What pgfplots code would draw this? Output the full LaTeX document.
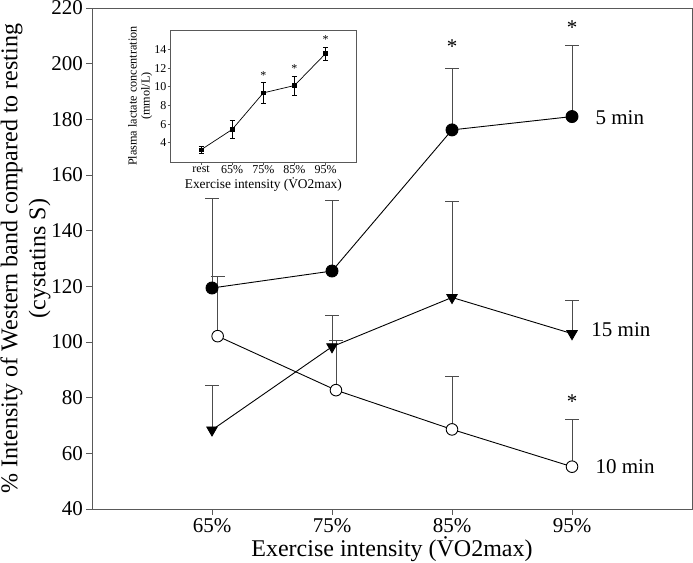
\documentclass[border=0pt]{standalone}
\usepackage{fontspec}
\setmainfont{Liberation Serif}
\usepackage{pgfplots}
\pgfplotsset{compat=1.18}
\begin{document}
\begin{tikzpicture}
\useasboundingbox (-92pt,-53pt) rectangle (601pt,509pt);
\begin{axis}[
  at={(0pt,0pt)}, anchor=south west,
  scale only axis, width=600pt, height=501pt,
  xmin=0, xmax=5, ymin=40, ymax=220,
  xtick={1,2,3,4}, xticklabels={65\%,75\%,85\%,95\%},
  ytick={40,60,...,220},
  tick align=outside, major tick length=5.5pt,
  xtick pos=bottom, ytick pos=left,
  axis line style={black!65, line width=0.9pt},
  tick style={black!65, line width=0.9pt},
  tick label style={font=\fontsize{21}{25}\selectfont},
  /pgf/number format/assume math mode=true,
  xlabel={Exercise intensity (\.{V}O2max)},
  xlabel style={yshift=3pt},
  ylabel={\% Intensity of Western band compared to resting\\(cystatins S)},
  label style={font=\fontsize{24}{28}\selectfont},
  ylabel style={align=center, yshift=-6pt},
  clip=false,
]
% 5 min
\addplot[black, line width=0.9pt, mark=*, mark size=6pt, mark options={fill=black, solid},
  error bars/.cd, y dir=plus, y explicit,
  error bar style={black!70, line width=0.9pt},
  error mark options={rotate=90, black!70, mark size=7pt, line width=0.9pt}]
 coordinates {(1,119.4) +- (0,32.2) (2,125.5) +- (0,25.5) (3,176.2) +- (0,22.1) (4,181.0) +- (0,25.5)};
% 15 min
\addplot[black, line width=0.9pt, mark=triangle*, mark size=6pt, mark options={fill=black, solid, rotate=180},
  error bars/.cd, y dir=plus, y explicit,
  error bar style={black!70, line width=0.9pt},
  error mark options={rotate=90, black!70, mark size=7pt, line width=0.9pt}]
 coordinates {(1,68.4) +- (0,15.9) (2,98.3) +- (0,11.1) (3,116.0) +- (0,34.4) (4,103.0) +- (0,12.1)};
% 10 min
\addplot[black, line width=0.9pt, mark=*, mark size=5.8pt, mark options={fill=white, solid},
  error bars/.cd, y dir=plus, y explicit,
  error bar style={black!70, line width=0.9pt},
  error mark options={rotate=90, black!70, mark size=7pt, line width=0.9pt}]
 coordinates {(1.047,102.1) +- (0,21.6) (2.033,82.7) +- (0,18.0) (3,68.6) +- (0,18.9) (4,55.2) +- (0,16.8)};
\node[anchor=west, font=\fontsize{21}{25}\selectfont] at (axis cs:4.167,180.5) {5 min};
\node[anchor=west, font=\fontsize{21}{25}\selectfont] at (axis cs:4.133,104.3) {15 min};
\node[anchor=west, font=\fontsize{21}{25}\selectfont] at (axis cs:4.167,55.4) {10 min};
\node[font=\fontsize{21}{25}\selectfont, inner sep=0pt] at (axis cs:3,206.2) {*};
\node[font=\fontsize{21}{25}\selectfont, inner sep=0pt] at (axis cs:4,213.0) {*};
\node[font=\fontsize{21}{25}\selectfont, inner sep=0pt] at (axis cs:4,78.5) {*};
\end{axis}
\begin{axis}[
  at={(78pt,346.7pt)}, anchor=south west,
  scale only axis, width=186.7pt, height=132.3pt,
  xmin=0, xmax=6, ymin=1.9, ymax=16.1,
  xtick={1,2,3,4,5}, xticklabels={rest,65\%,75\%,85\%,95\%},
  ytick={4,6,...,14},
  tick align=outside, major tick length=2.5pt,
  xtick pos=bottom, ytick pos=left,
  axis line style={black!65, line width=0.7pt},
  tick style={black!65, line width=0.7pt},
  tick label style={font=\fontsize{12}{14}\selectfont},
  xticklabel style={inner sep=1pt},
  yticklabel style={inner sep=1pt},
  /pgf/number format/assume math mode=true,
  xlabel={Exercise intensity (\.{V}O2max)},
  xlabel style={font=\fontsize{13.4}{15}\selectfont, inner sep=1pt, yshift=-1pt},
  ylabel={Plasma lactate concentration\\(mmol/L)},
  ylabel style={align=center, font=\fontsize{12.2}{13}\selectfont, inner sep=1pt},
  axis background/.style={fill=white},
  clip=false,
]
\addplot[black, line width=0.7pt, mark=square*, mark size=1.8pt, mark options={fill=black, solid},
  error bars/.cd, y dir=both, y explicit,
  error bar style={black, line width=0.6pt},
  error mark options={rotate=90, black, mark size=2.5pt, line width=0.6pt}]
 coordinates {(1,3.25) +- (0,0.35) (2,5.43) +- (0,0.95) (3,9.35) +- (0,1.1) (4,10.14) +- (0,1.0) (5,13.57) +- (0,0.7)};
\node[font=\fontsize{12}{14}\selectfont, inner sep=0pt] at (axis cs:3,11.26) {*};
\node[font=\fontsize{12}{14}\selectfont, inner sep=0pt] at (axis cs:4,11.93) {*};
\node[font=\fontsize{12}{14}\selectfont, inner sep=0pt] at (axis cs:5,15.03) {*};
\end{axis}
\end{tikzpicture}
\end{document}
